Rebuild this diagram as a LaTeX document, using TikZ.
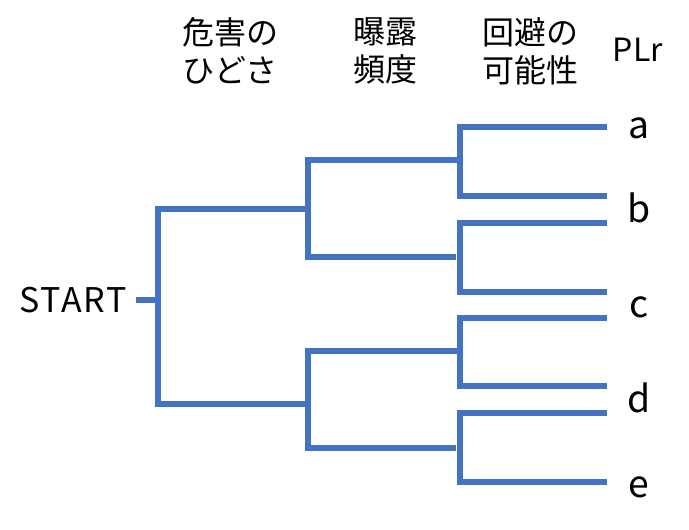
\documentclass[tikz,border=0pt]{standalone}
\usepackage{fontspec}
\setmainfont{Noto Sans CJK JP}
\usepackage{tikz}
\definecolor{lineblue}{HTML}{4472C4}

\begin{document}
\begin{tikzpicture}[x=0.75pt,y=-0.75pt,
        branch/.style={draw=lineblue,line width=4.2pt},
        hdr/.style={align=center,font=\fontsize{24}{28.5}\selectfont},
        lvl/.style={font=\fontsize{28}{32}\selectfont}]
        \useasboundingbox (0,0) rectangle (689,530);
        \path
        % header row
        +(230,51)  node[hdr] (sev)   {危害の\\ひどさ}
        +(385,51)  node[hdr] (freq)  {曝露\\頻度}
        +(530,51)  node[hdr] (avoid) {回避の\\可能性}
        +(638,50)  node[hdr] (plr)   {PLr}
        % start
        +(73,300)  node[font=\fontsize{25.5}{30}\selectfont\addfontfeature{LetterSpace=5}] (start) {START}
        % PLr levels
        +(639,128) node[lvl] (a) {a}
        +(639,208) node[lvl] (b) {b}
        +(639,307) node[lvl] (c) {c}
        +(639,398) node[lvl] (d) {d}
        +(639,487) node[lvl] (e) {e};

        % 1st branch (severity)
        \coordinate (s0) at (136,300);
        \coordinate (s1) at (158,300);
        \coordinate (s1t) at (158,209);
        \coordinate (s1b) at (158,404);
        % 2nd branch (frequency)
        \coordinate (f1t) at (308,160);
        \coordinate (f1b) at (308,257);
        \coordinate (f2t) at (308,351);
        \coordinate (f2b) at (308,448);
        % 3rd branch (avoidance)
        \coordinate (p1t) at (460,127);
        \coordinate (p1b) at (460,196);
        \coordinate (p2t) at (460,223);
        \coordinate (p2b) at (460,292);
        \coordinate (p3t) at (460,318);
        \coordinate (p3b) at (460,386);
        \coordinate (p4t) at (460,413);
        \coordinate (p4b) at (460,482);

        \draw[branch] (s0) -- (s1);
        \draw[branch] (f1t |- s1t) -- (s1t) -- (s1b) -- (f2t |- s1b);
        \draw[branch] (p1t |- f1t) -- (f1t) -- (f1b) -- ([xshift=-3pt]p1t |- f1b);
        \draw[branch] (p1t |- f2t) -- (f2t) -- (f2b) -- ([xshift=-3pt]p1t |- f2b);
        \foreach \k in {1,2,3,4}
            \draw[branch] (607,0 |- p\k t) -- (p\k t) -- (p\k b) -- (607,0 |- p\k b);
    \end{tikzpicture}
\end{document}
